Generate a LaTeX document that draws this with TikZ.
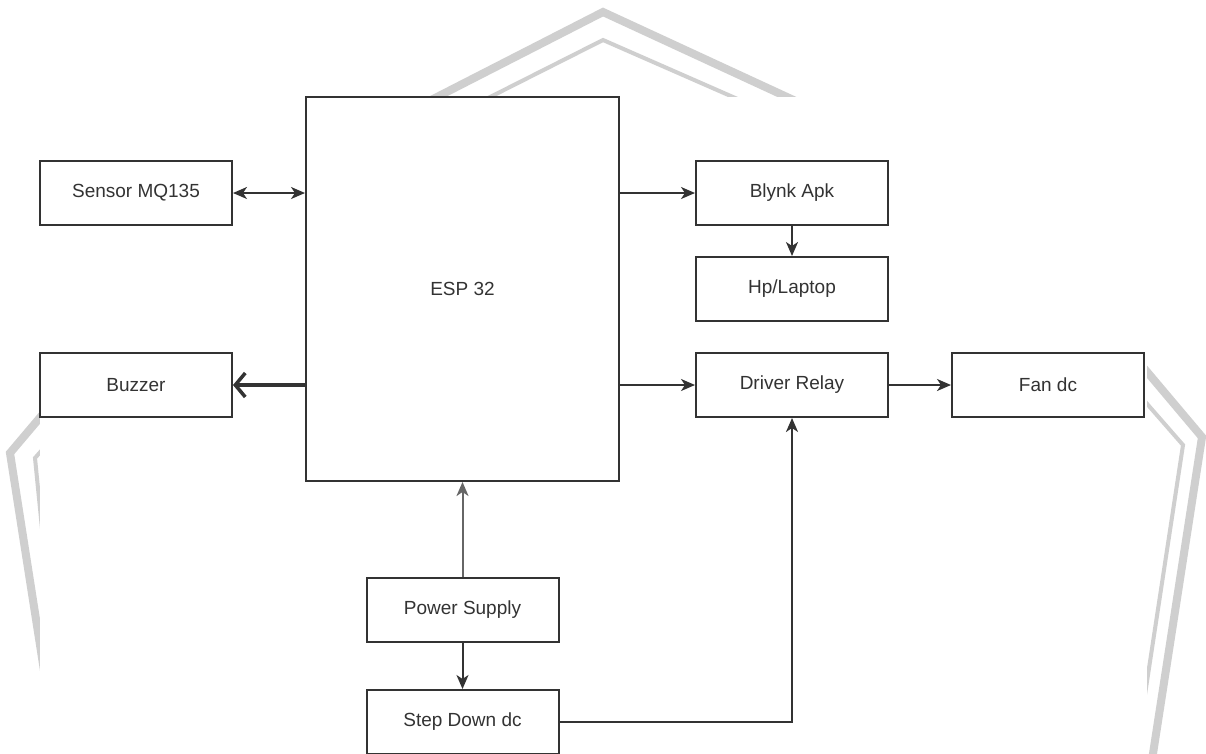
\documentclass[tikz,border=0pt]{standalone}
\usepackage{fontspec}
\setmainfont{Liberation Sans}
\usetikzlibrary{arrows.meta}
\definecolor{ink}{HTML}{333333}
\definecolor{wm}{HTML}{CFCFCF}
\tikzset{
  blockbox/.style={draw=ink, line width=2pt, fill=white, minimum width=192pt, minimum height=64pt,
    inner sep=0pt, text=ink, font=\fontsize{19}{22}\selectfont},
  tipshape/.tip={Stealth[length=14pt,width=12pt,inset=4pt]},
  link/.style={draw=ink, line width=2pt, -tipshape},
  duallink/.style={draw=ink, line width=2pt, tipshape-tipshape},
  openlink/.style={draw=ink, line width=3.5pt, -{Straight Barb[length=10pt,width=24pt]}},
  wmouter/.style={draw=wm, line width=8pt, line join=miter},
  wminner/.style={draw=wm, line width=4pt, line join=miter},
}
\begin{document}
\begin{tikzpicture}[x=1pt,y=-1pt]
\useasboundingbox (0,0) rectangle (1206,753);
\fill[white] (0,0) rectangle (1206,753);
% watermark
\draw[wmouter] (58,760) -- (10,453) -- (120,323) -- (353,140) -- (603,12) -- (880,140) -- (1100,316) -- (1202,437) -- (1152,760);
\draw[wminner] (65,760) -- (35,458) -- (130,350) -- (405,140) -- (603,40) -- (831,140) -- (1100,350) -- (1183,445) -- (1135,760);
% white backdrop of the diagram
\fill[white] (40,97) rectangle (1147,760);
% nodes
\node[blockbox] (esp) at (462.5,289) [minimum width=313pt, minimum height=384pt] {ESP 32};
\node[blockbox] (sensor) at (136,193) {Sensor MQ135};
\node[blockbox] (buzzer) at (136,385) {Buzzer};
\node[blockbox] (blynk) at (792,193) {Blynk Apk};
\node[blockbox] (hp) at (792,289) {Hp/Laptop};
\node[blockbox] (driver) at (792,385) {Driver Relay};
\node[blockbox] (fan) at (1048,385) {Fan dc};
\node[blockbox] (power) at (462.5,610) {Power Supply};
\node[blockbox] (step) at (462.5,722) {Step Down dc};
% connectors
\draw[duallink] (sensor.east) -- (sensor.east -| esp.west);
\draw[openlink] (buzzer.east -| esp.west) -- (buzzer.east);
\draw[link] (blynk.west -| esp.east) -- (blynk.west);
\draw[link] (driver.west -| esp.east) -- (driver.west);
\draw[link] (blynk.south) -- (hp.north);
\draw[link] (driver.east) -- (fan.west);
\draw[link, draw=black!60] (power.north) -- (esp.south);
\draw[link] (power.south) -- (step.north);
\draw[link] (step.east) -| (driver.south);
\end{tikzpicture}
\end{document}
